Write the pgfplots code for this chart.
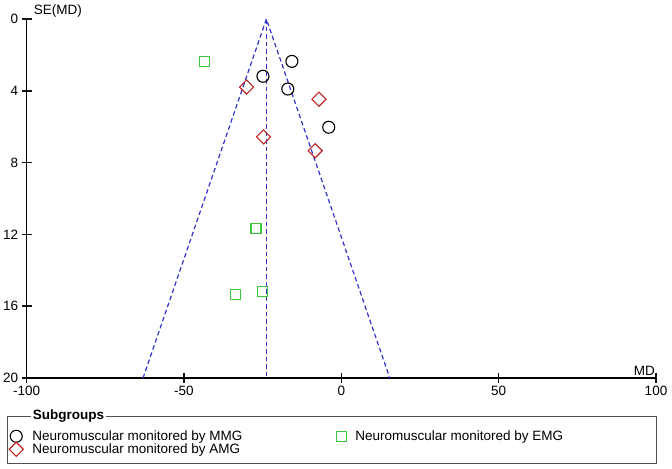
\documentclass[border=0pt]{standalone}
\usepackage{fontspec}
\setmainfont{Liberation Sans}
\usepackage{pgfplots}
\pgfplotsset{compat=1.18}
\definecolor{funnelblue}{RGB}{50,50,205}
\definecolor{emggreen}{RGB}{60,200,60}
\definecolor{amgred}{RGB}{195,35,35}
\definecolor{boxgray}{RGB}{80,80,80}
\definecolor{tickblack}{RGB}{20,20,20}

\begin{document}
\begin{tikzpicture}[font=\fontsize{13.5bp}{15bp}\selectfont]
\begin{axis}[
    at={(0,0)}, anchor=south west,
    scale only axis,
    width=629.4bp, height=359bp,
    xmin=-100, xmax=100,
    ymin=0, ymax=20,
    y dir=reverse,
    axis lines=left,
    axis line style={-, line width=1.2bp},
    xtick={-100,-50,0,50,100},
    ytick={0,4,8,12,16,20},
    tick align=center,
    major tick length=10bp,
    every tick/.style={tickblack, line width=1.5bp},
    /pgf/number format/assume math mode=true,
    clip=false,
    legend columns=2,
    legend cell align=left,
    legend style={
        at={(-0.028,-0.145)}, anchor=north west,
        draw=none, fill=none, inner sep=0pt,
        nodes={inner ysep=0.3bp},
        /tikz/every odd column/.append style={column sep=7bp},
        /tikz/every even column/.append style={column sep=92bp},
    },
]
% funnel: pooled MD and 95% limits
\addplot[draw=funnelblue, line width=1.2bp, dash pattern=on 4.5bp off 3bp, forget plot]
    coordinates {(-63.0,20) (-23.8,0) (15.4,20)};
\addplot[draw=funnelblue, line width=1.2bp, dash pattern=on 4.5bp off 3bp, forget plot]
    coordinates {(-23.8,0) (-23.8,20)};

% MMG
\addplot[only marks, mark=o, mark size=6bp, mark options={draw=black, line width=1.1bp}]
    coordinates {(-15.7,2.36) (-24.9,3.19) (-17.0,3.90) (-4.0,6.03)};
\addlegendentry{Neuromuscular monitored by MMG}
% EMG
\addplot[only marks, mark=square, mark size=5bp, mark options={draw=emggreen, line width=1.1bp}]
    coordinates {(-43.4,2.38) (-27.1,11.66) (-33.7,15.34) (-24.9,15.20)};
\addlegendentry{Neuromuscular monitored by EMG}
% AMG
\addplot[only marks, mark=square, mark size=5bp, mark options={draw=amgred, line width=1.1bp, rotate=45}]
    coordinates {(-30.1,3.79) (-7.1,4.47) (-24.7,6.57) (-8.3,7.34)};
\addlegendentry{Neuromuscular monitored by AMG}

\node[anchor=south west, inner sep=0pt] at ([xshift=7bp,yshift=2bp]axis cs:-100,0) {SE(MD)};
\node[anchor=south east, inner sep=0pt] at ([xshift=-1bp,yshift=2bp]axis cs:100,20) {MD};
\end{axis}
\draw[boxgray, line width=1bp] (-18.6bp,-38bp) rectangle (629.4bp,-85bp);
\node[anchor=west, fill=white, inner xsep=2bp, inner ysep=0pt, font=\fontsize{13.5bp}{15bp}\selectfont\bfseries]
    at (4bp,-38bp) {Subgroups};
\pgfresetboundingbox
\useasboundingbox (-26.6bp,-91bp) rectangle (645.4bp,378bp);
\end{tikzpicture}
\end{document}
